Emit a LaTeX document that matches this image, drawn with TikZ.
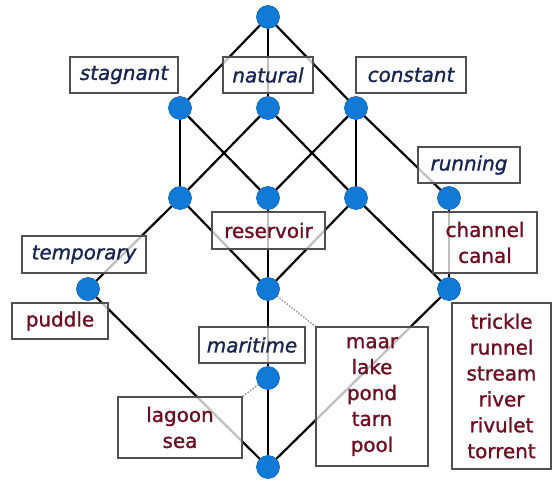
\documentclass[tikz,border=0pt]{standalone}
\usepackage{fontspec}
\setmainfont{DejaVu Sans}[RawFeature={embolden=1.2}]
\definecolor{nodeblue}{RGB}{16,122,214}
\definecolor{attrtext}{RGB}{22,36,80}
\definecolor{objtext}{RGB}{110,14,34}
\definecolor{boxline}{RGB}{80,80,80}
\tikzset{
  concept/.style={circle, fill=nodeblue, draw=nodeblue!80!black, line width=0.3bp, minimum size=23bp, inner sep=0pt},
  edge/.style={draw=black, line width=2.2bp},
  labelbox/.style={draw=boxline, line width=1.6bp, fill=white, fill opacity=0.75, text opacity=1,
    inner sep=0pt, align=center, font=\fontsize{20}{26}\selectfont},
  attr/.style={labelbox, text=attrtext, font=\fontsize{20}{26}\selectfont\itshape},
  obj/.style={labelbox, text=objtext},
  hint/.style={draw=gray!80, line width=1.5bp, dash pattern=on 1.5bp off 1.5bp}
}
\begin{document}
\begin{tikzpicture}[x=1bp, y=-1bp]
\useasboundingbox (0,0) rectangle (553,481);

% concept nodes
\node[concept] (top) at (268,17) {};
\node[concept] (stag) at (180,108) {};
\node[concept] (nat) at (268,108) {};
\node[concept] (con) at (356,108) {};
\node[concept] (sn) at (180,198) {};
\node[concept] (nc) at (268,198) {};
\node[concept] (cn) at (356,198) {};
\node[concept] (run) at (449,198) {};
\node[concept] (tmp) at (88,289) {};
\node[concept] (res) at (268,289) {};
\node[concept] (chan) at (449,289) {};
\node[concept] (mar) at (268,378) {};
\node[concept] (bot) at (268,467) {};

% lattice edges
\draw[edge] (top) -- (stag);
\draw[edge] (top) -- (nat);
\draw[edge] (top) -- (con);
\draw[edge] (stag) -- (sn);
\draw[edge] (stag) -- (nc);
\draw[edge] (nat) -- (sn);
\draw[edge] (nat) -- (cn);
\draw[edge] (con) -- (nc);
\draw[edge] (con) -- (cn);
\draw[edge] (con) -- (run);
\draw[edge] (sn) -- (tmp);
\draw[edge] (sn) -- (res);
\draw[edge] (nc) -- (res);
\draw[edge] (cn) -- (res);
\draw[edge] (cn) -- (chan);
\draw[edge] (run) -- (chan);
\draw[edge] (tmp) -- (bot);
\draw[edge] (res) -- (mar);
\draw[edge] (mar) -- (bot);
\draw[edge] (chan) -- (bot);

% label boxes
\node[attr, minimum width=108bp, minimum height=36bp] (lstag) at (124,75) {stagnant};
\node[attr, minimum width=90bp, minimum height=36bp] (lnat) at (268,75) {natural};
\node[attr, minimum width=110bp, minimum height=36bp] (lcon) at (411,75) {constant};
\node[attr, minimum width=102bp, minimum height=36bp] (lrun) at (469,165) {running};
\node[obj, minimum width=113bp, minimum height=37bp] (lres) at (268.5,230.5) {reservoir};
\node[obj, minimum width=104bp, minimum height=61bp] (lchan) at (485,242.5) {channel\\canal};
\node[attr, minimum width=124bp, minimum height=37bp] (ltmp) at (84,254.5) {temporary};
\node[obj, minimum width=96bp, minimum height=36bp] (lpud) at (60,321) {puddle};
\node[attr, minimum width=106bp, minimum height=36bp] (lmar) at (252,345) {maritime};
\node[obj, minimum width=124bp, minimum height=61bp] (llag) at (180,427.5) {lagoon\\sea};
\node[obj, minimum width=112bp, minimum height=139bp] (lmaar) at (372,396.5) {maar\\lake\\pond\\tarn\\pool};
\node[obj, minimum width=99bp, minimum height=166bp] (ltri) at (501.5,386) {trickle\\runnel\\stream\\river\\rivulet\\torrent};

% dotted hints from concepts to their object boxes
\draw[hint] (res) -- (lmaar.north west);
\draw[hint] (mar) -- (llag.north east);

% redraw concept circles above the boxes
\foreach \n in {top,stag,nat,con,sn,nc,cn,run,tmp,res,chan,mar,bot}
  \node[concept] at (\n) {};
\end{tikzpicture}
\end{document}
